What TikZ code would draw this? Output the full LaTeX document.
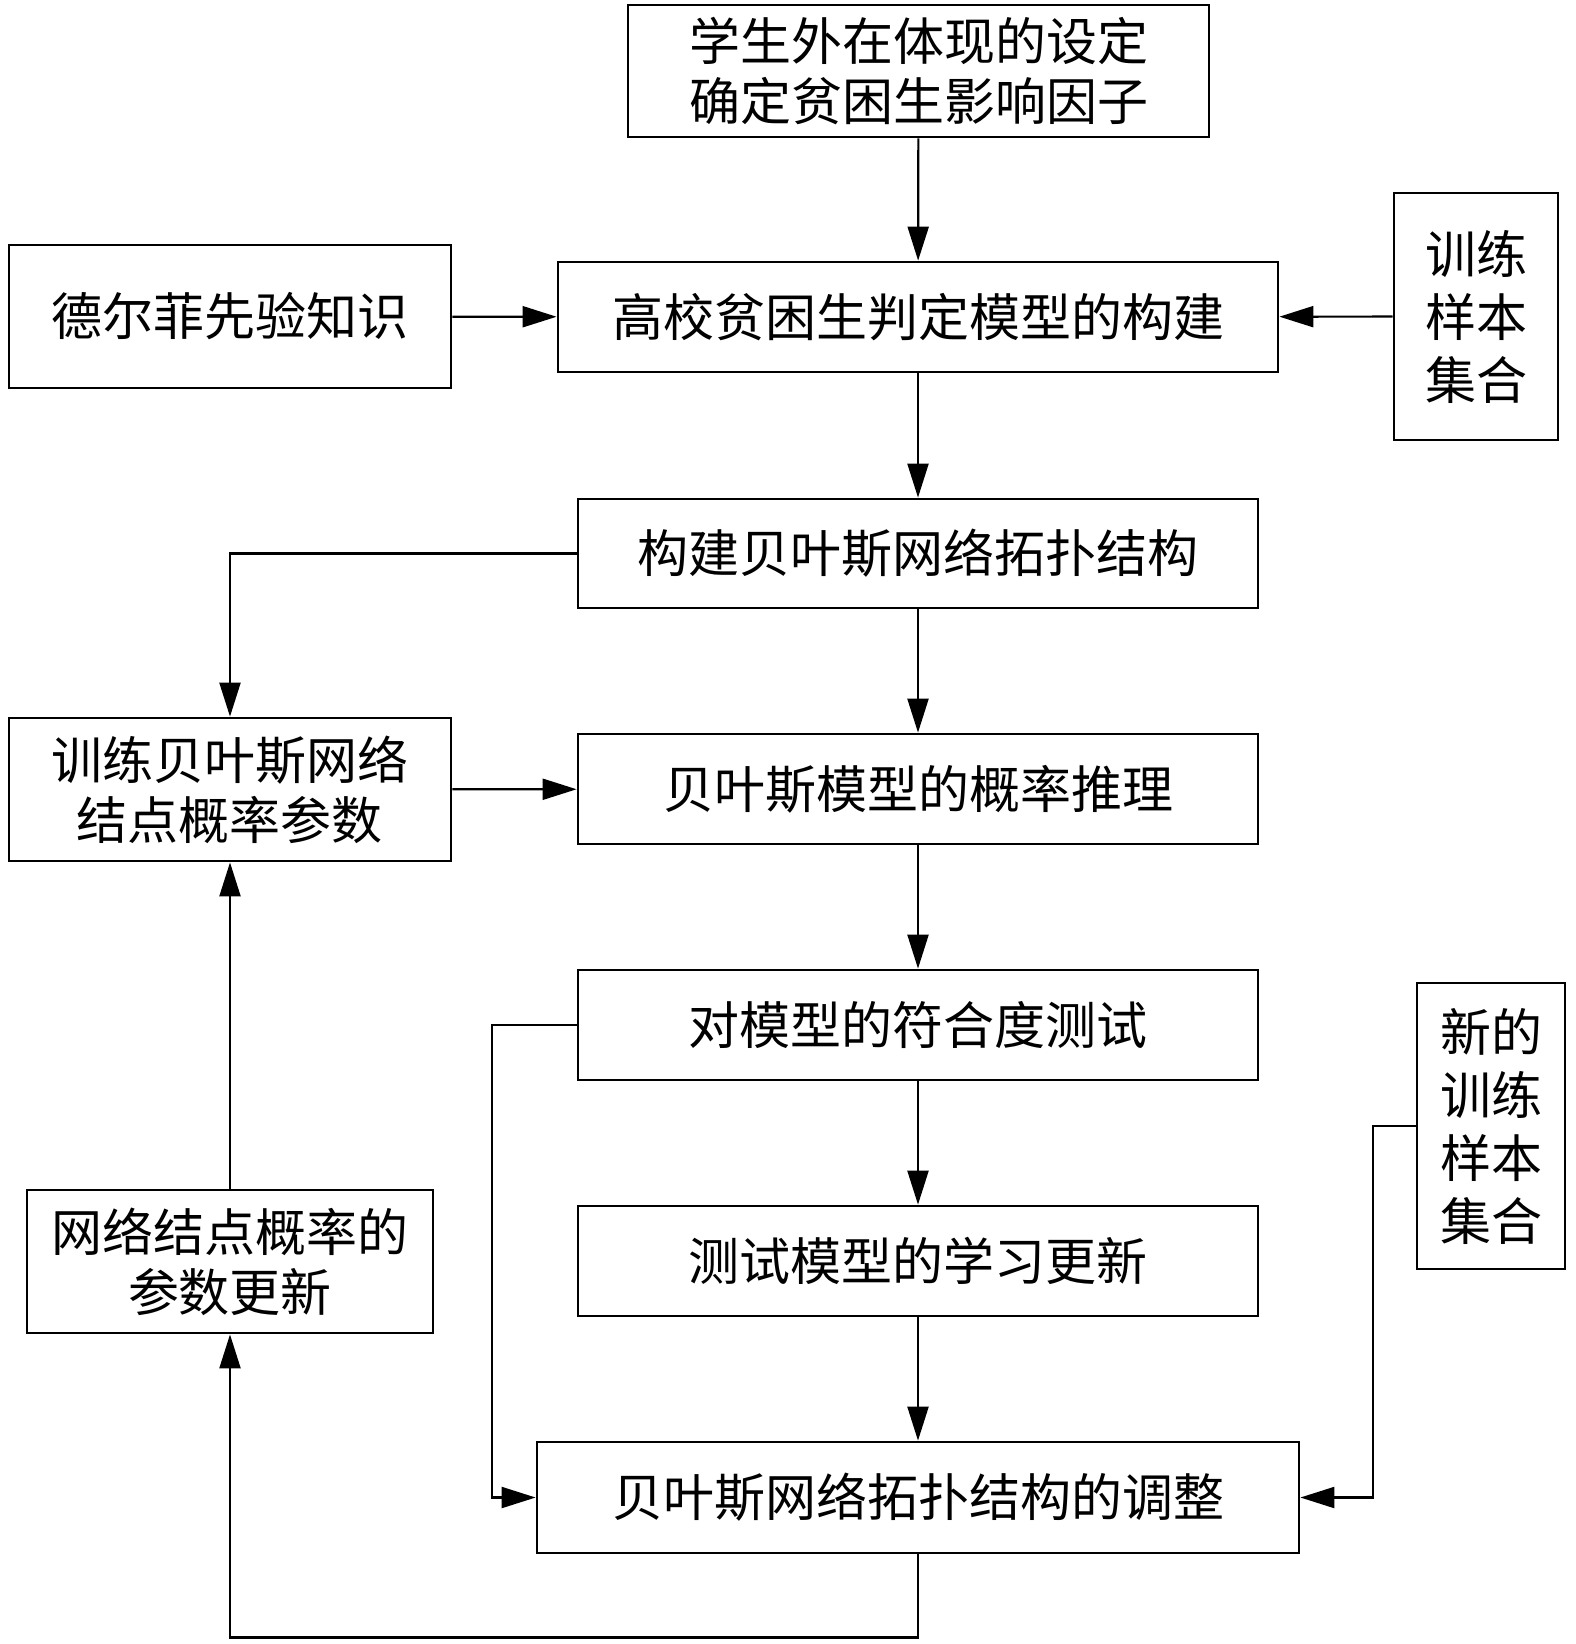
\documentclass[tikz,border=0pt]{standalone}
\usepackage{fontspec}
\setmainfont{Noto Sans CJK SC}
\usetikzlibrary{arrows.meta}
\begin{document}
\begin{tikzpicture}[x=0.5pt,y=-0.5pt,
  box/.style={draw,line width=1.4pt,inner sep=0pt,align=center,
    font=\fontsize{25.5pt}{30pt}\selectfont},
  vbox/.style={box,font=\fontsize{25.5pt}{31.5pt}\selectfont},
  conn/.style={line width=1.1pt},
  arr/.style={conn,-{Triangle[length=17pt,width=10.5pt]}}]
\useasboundingbox (0,0) rectangle (1575,1644);
\node[box,minimum width=290.5pt,minimum height=66pt] (top) at (918.5,71) {学生外在体现的设定\\确定贫困生影响因子};
\node[box,minimum width=221pt,minimum height=71.5pt] (delphi) at (230,316.5) {德尔菲先验知识};
\node[box,minimum width=360pt,minimum height=55pt] (model) at (918,317) {高校贫困生判定模型的构建};
\node[vbox,minimum width=82pt,minimum height=123.5pt] (train) at (1476,316.5) {训练\\样本\\集合};
\node[box,minimum width=340pt,minimum height=54.5pt] (struct) at (918,553.5) {构建贝叶斯网络拓扑结构};
\node[box,minimum width=221pt,minimum height=71.5pt] (trainbn) at (230,789.5) {训练贝叶斯网络\\结点概率参数};
\node[box,minimum width=340pt,minimum height=55pt] (infer) at (918,789) {贝叶斯模型的概率推理};
\node[box,minimum width=340pt,minimum height=55pt] (fit) at (918,1025) {对模型的符合度测试};
\node[vbox,minimum width=74pt,minimum height=143pt] (newtrain) at (1491,1126) {新的\\训练\\样本\\集合};
\node[box,minimum width=340pt,minimum height=55pt] (update) at (918,1261) {测试模型的学习更新};
\node[box,minimum width=203pt,minimum height=71.5pt] (param) at (230,1261.5) {网络结点概率的\\参数更新};
\node[box,minimum width=381pt,minimum height=55.5pt] (adjust) at (918,1497.5) {贝叶斯网络拓扑结构的调整};

\draw[arr] (top) -- (model);
\draw[arr] (delphi) -- (model);
\draw[arr] (train) -- (model);
\draw[arr] (model) -- (struct);
\draw[arr] (struct) -- (infer);
\draw[arr] (struct.west) -| (trainbn.north);
\draw[arr] (trainbn) -- (infer);
\draw[arr] (infer) -- (fit);
\draw[arr] (fit) -- (update);
\draw[arr] (update) -- (adjust);
\draw[arr] (fit.west) -- ++(-85,0) |- (adjust.west);
\draw[arr] (newtrain.west) -- ++(-43,0) |- (adjust.east);
\draw[arr] (param) -- (trainbn);
\draw[arr] (adjust.south) -- ++(0,83) -| (param.south);
\end{tikzpicture}
\end{document}
